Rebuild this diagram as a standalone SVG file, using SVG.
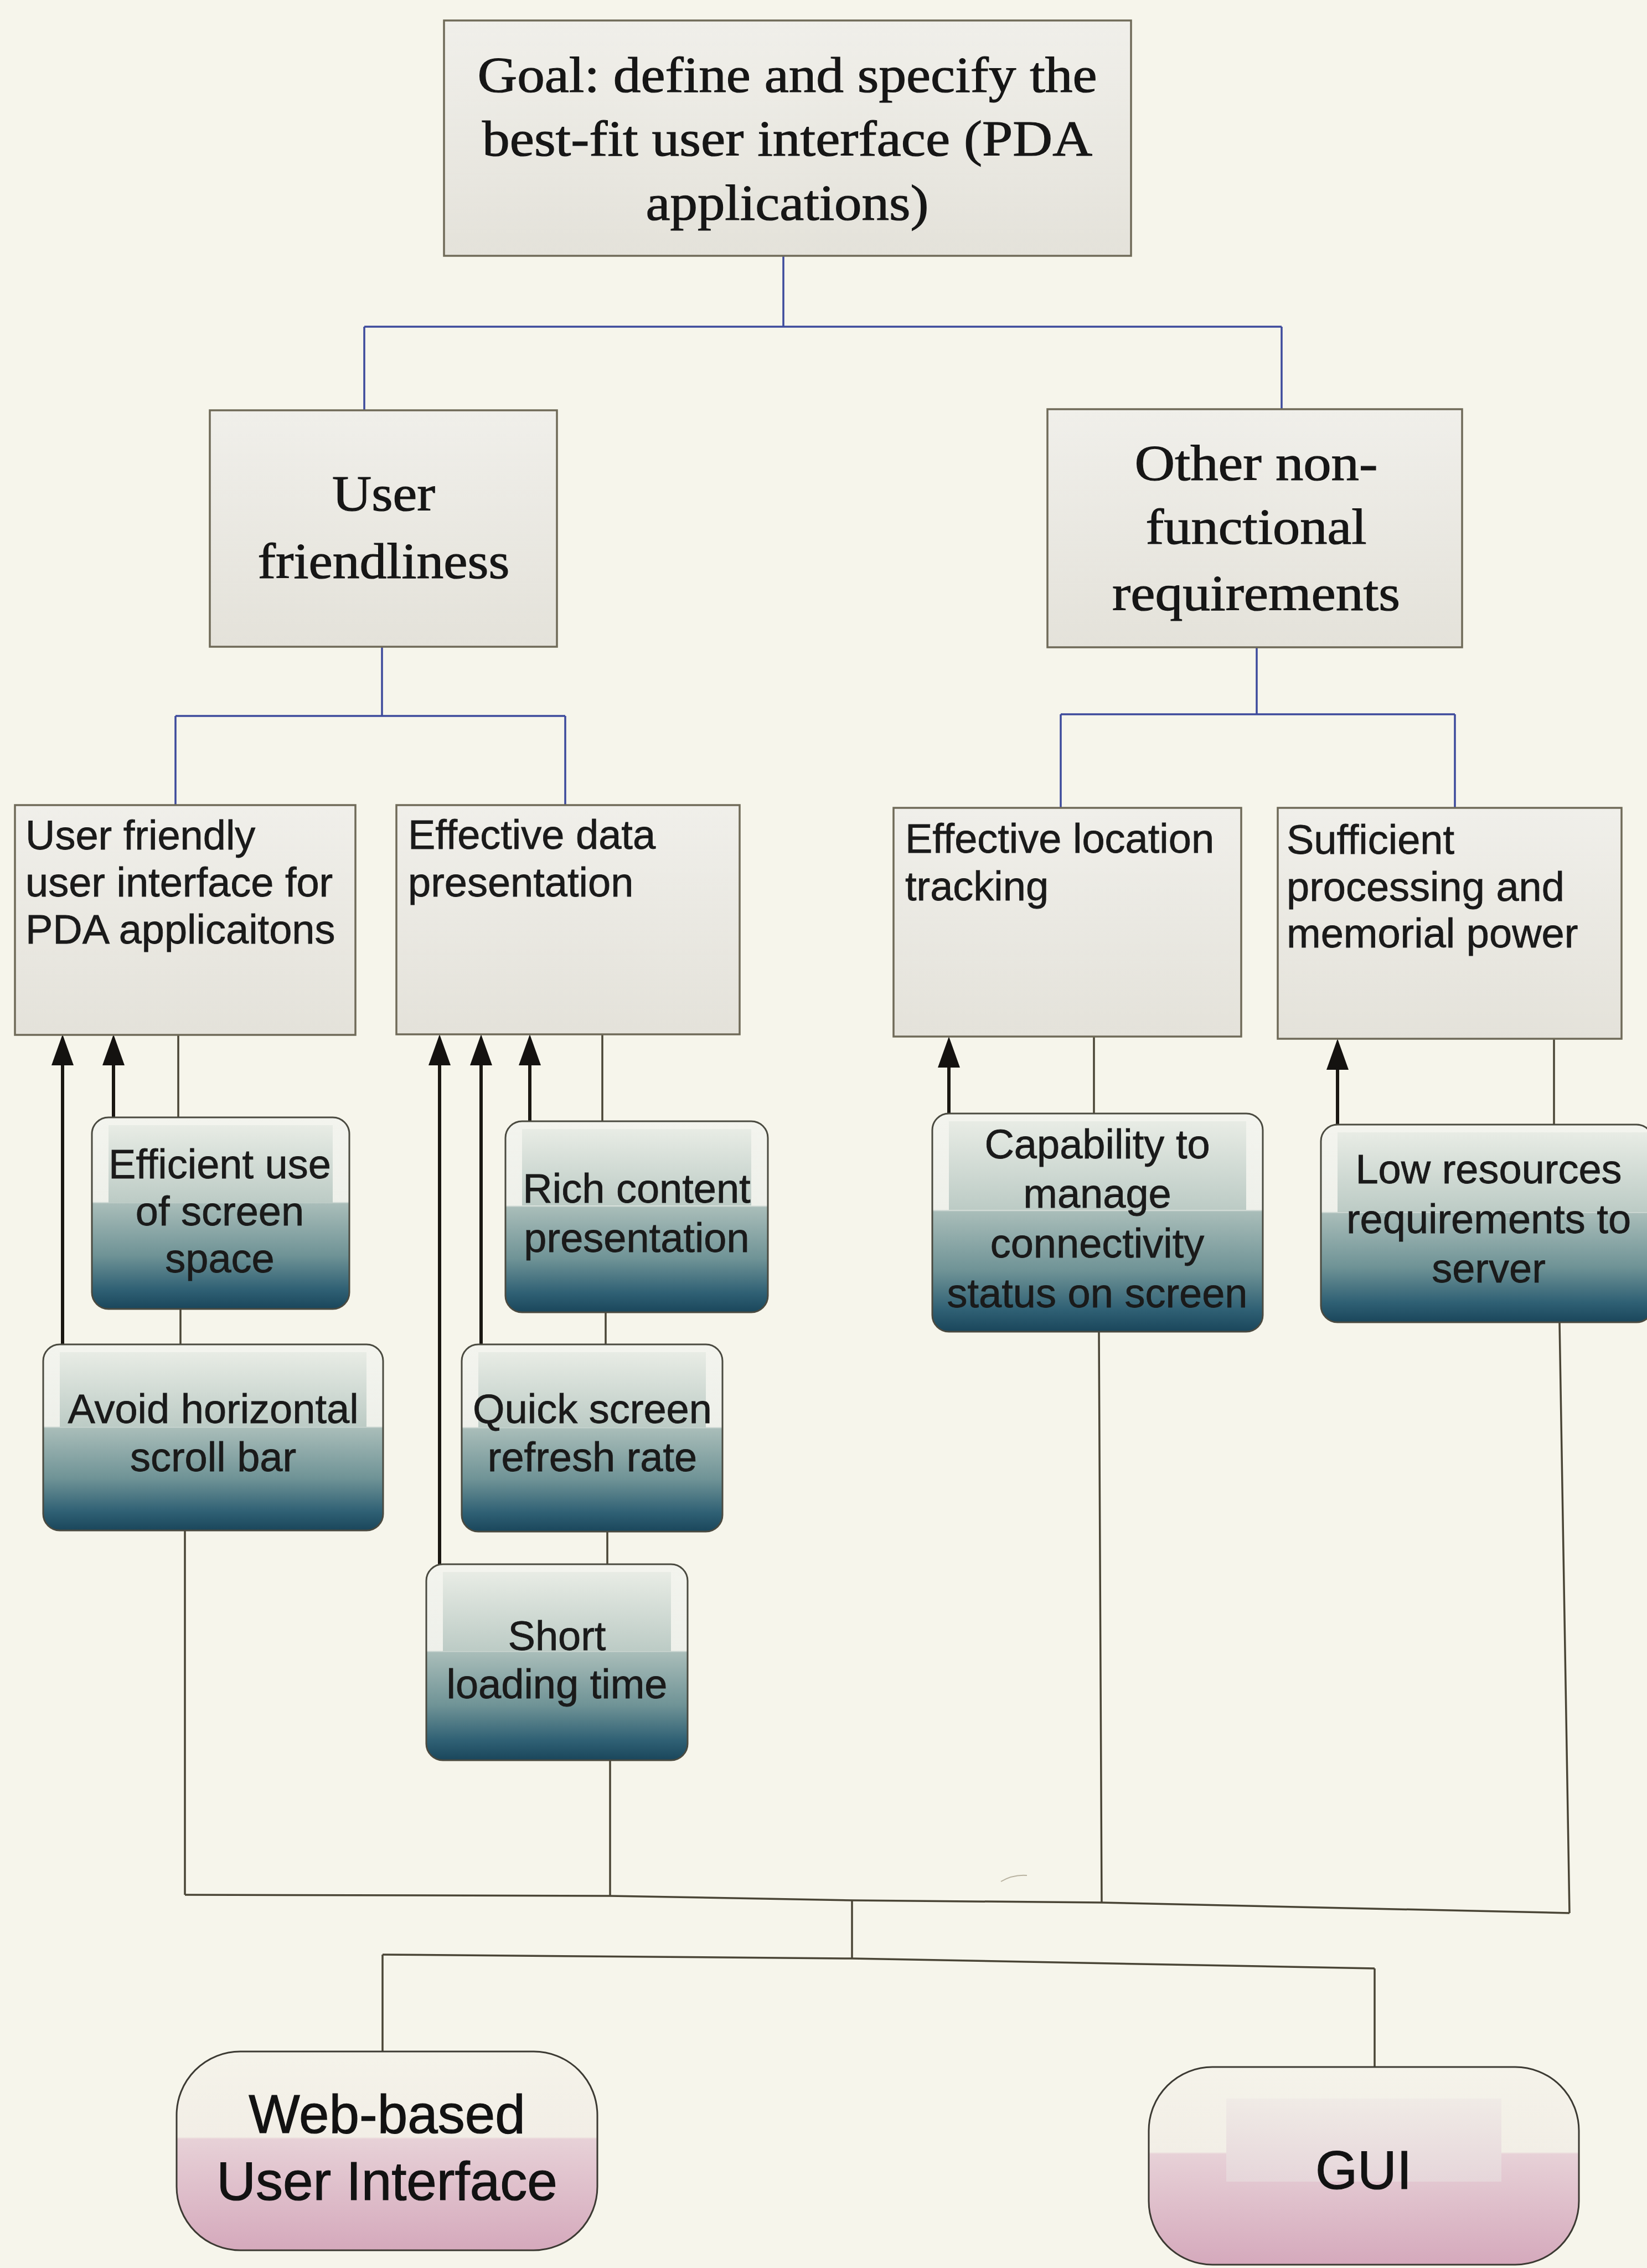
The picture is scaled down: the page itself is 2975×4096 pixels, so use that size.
<svg xmlns="http://www.w3.org/2000/svg" width="2975" height="4096" viewBox="0 0 2975 4096">
  <defs>
    <style>
      .bg { fill: #f6f5eb; }
      .box { fill: url(#grayFill); stroke: #6f6a58; stroke-width: 3.5; }
      .teal { fill: url(#tealFill); stroke: #4a4a40; stroke-width: 3; }
      .tealTop { fill: url(#tealTopFill); }
      .pink { fill: url(#pinkFill); stroke: #3c3a33; stroke-width: 3; }
      .pinkTop { fill: url(#pinkTopFill); }
      .serif { font-family: "Liberation Serif", "Times New Roman", serif; font-size: 92px; fill: #161616; stroke: #161616; stroke-width: 1.2; text-anchor: middle; }
      .sans { font-family: "Liberation Sans", Arial, sans-serif; font-size: 74px; fill: #1a1a1a; stroke: #1a1a1a; stroke-width: 0.8; }
      .mid { text-anchor: middle; }
      .big { font-family: "Liberation Sans", Arial, sans-serif; font-size: 98px; fill: #121212; stroke: #121212; stroke-width: 1.2; text-anchor: middle; }
      .blue { fill: none; stroke: #3d4a9c; stroke-width: 3.5; }
      .link { fill: none; stroke: #4a4536; stroke-width: 3.5; }
      .arrow { fill: none; stroke: #1a1712; stroke-width: 6; marker-end: url(#head); }
    </style>
    <linearGradient id="grayFill" x1="0" y1="0" x2="0" y2="1">
      <stop offset="0" stop-color="#f0efea"/>
      <stop offset="1" stop-color="#e4e2da"/>
    </linearGradient>
    <linearGradient id="tealFill" x1="0" y1="0" x2="0" y2="1">
      <stop offset="0" stop-color="#f3f4ee"/>
      <stop offset="0.44" stop-color="#eef0ea"/>
      <stop offset="0.45" stop-color="#a9bdb9"/>
      <stop offset="0.72" stop-color="#6f9396"/>
      <stop offset="0.9" stop-color="#2f6074"/>
      <stop offset="1" stop-color="#1a465b"/>
    </linearGradient>
    <linearGradient id="tealTopFill" x1="0" y1="0" x2="0" y2="1">
      <stop offset="0" stop-color="#e8ece5"/>
      <stop offset="1" stop-color="#bccbc5"/>
    </linearGradient>
    <linearGradient id="pinkFill" x1="0" y1="0" x2="0" y2="1">
      <stop offset="0" stop-color="#f5f3ea"/>
      <stop offset="0.43" stop-color="#f2eee6"/>
      <stop offset="0.44" stop-color="#e7d1d7"/>
      <stop offset="1" stop-color="#d5a9bc"/>
    </linearGradient>
    <linearGradient id="pinkTopFill" x1="0" y1="0" x2="0" y2="1">
      <stop offset="0" stop-color="#f0ebe6"/>
      <stop offset="1" stop-color="#e6d6da"/>
    </linearGradient>
    <marker id="head" markerUnits="userSpaceOnUse" markerWidth="56" markerHeight="40" viewBox="0 0 56 40" refX="48" refY="20" orient="auto">
      <path d="M0,0 L56,20 L0,40 z" fill="#141210"/>
    </marker>
  </defs>

  <rect class="bg" x="0" y="0" width="2975" height="4096"/>

  <!-- connectors -->
  <g id="connectors">
    <!-- goal to second level -->
    <path class="blue" d="M1415,462 V590 M658,590 H2315 M658,590 V741 M2315,590 V739"/>
    <!-- user friendliness to its sub-goals -->
    <path class="blue" d="M690,1168 V1293 M317,1293 H1021 M317,1293 V1454 M1021,1293 V1454"/>
    <!-- other requirements to its sub-goals -->
    <path class="blue" d="M2270,1169 V1290 M1916,1290 H2628 M1916,1290 V1459 M2628,1290 V1459"/>

    <!-- chains through the criteria boxes -->
    <path class="link" d="M322,1868 V2018 M326,2364 V2428 M334,2764 V3422"/>
    <path class="link" d="M1088,1868 V2025 M1094,2370 V2428 M1097,2766 V2825 M1102,3179 V3424"/>
    <path class="link" d="M1976,1872 V2011 M1985,2405 L1990,3436"/>
    <path class="link" d="M2807,1876 V2031 M2817,2388 L2835,3455"/>

    <!-- collecting bus and split to the alternatives -->
    <polyline class="link" points="334,3422 1102,3424 1539,3432 1990,3436 2835,3455"/>
    <path class="link" d="M1539,3432 V3537"/>
    <polyline class="link" points="691,3530 1539,3537 2483,3555"/>
    <path class="link" d="M691,3530 V3705 M2483,3555 V3733"/>

    <!-- contribution arrows -->
    <path class="arrow" d="M113,2428 V1876"/>
    <path class="arrow" d="M205,2018 V1876"/>
    <path class="arrow" d="M794,2825 V1876"/>
    <path class="arrow" d="M869,2428 V1876"/>
    <path class="arrow" d="M957,2025 V1876"/>
    <path class="arrow" d="M1714,2011 V1880"/>
    <path class="arrow" d="M2416,2031 V1884"/>

    <!-- small stray stroke -->
    <path d="M1808,3398 Q1830,3385 1855,3387" fill="none" stroke="#b8b2a0" stroke-width="2"/>
  </g>

  <!-- top goal -->
  <g id="goal">
    <rect class="box" x="802" y="37" width="1241" height="425"/>
    <text class="serif" x="1422" y="166" textLength="1119" lengthAdjust="spacingAndGlyphs">Goal: define and specify the</text>
    <text class="serif" x="1422" y="281" textLength="1102" lengthAdjust="spacingAndGlyphs">best-fit user interface (PDA</text>
    <text class="serif" x="1422" y="397" textLength="511" lengthAdjust="spacingAndGlyphs">applications)</text>
  </g>

  <g id="user-friendliness">
    <rect class="box" x="379" y="741" width="627" height="427"/>
    <text class="serif" x="693" y="922" textLength="186" lengthAdjust="spacingAndGlyphs">User</text>
    <text class="serif" x="693" y="1044" textLength="455" lengthAdjust="spacingAndGlyphs">friendliness</text>
  </g>

  <g id="other-nfr">
    <rect class="box" x="1892" y="739" width="749" height="430"/>
    <text class="serif" x="2269" y="867" textLength="439" lengthAdjust="spacingAndGlyphs">Other non-</text>
    <text class="serif" x="2269" y="982" textLength="399" lengthAdjust="spacingAndGlyphs">functional</text>
    <text class="serif" x="2269" y="1102" textLength="520" lengthAdjust="spacingAndGlyphs">requirements</text>
  </g>

  <!-- third level -->
  <g id="ui-for-pda">
    <rect class="box" x="27" y="1454" width="615" height="415"/>
    <text class="sans" x="46" y="1534">User friendly</text>
    <text class="sans" x="46" y="1619">user interface for</text>
    <text class="sans" x="46" y="1704">PDA applicaitons</text>
  </g>

  <g id="data-presentation">
    <rect class="box" x="716" y="1454" width="620" height="414"/>
    <text class="sans" x="737" y="1533">Effective data</text>
    <text class="sans" x="737" y="1619">presentation</text>
  </g>

  <g id="location-tracking">
    <rect class="box" x="1614" y="1459" width="628" height="413"/>
    <text class="sans" x="1635" y="1540">Effective location</text>
    <text class="sans" x="1635" y="1626">tracking</text>
  </g>

  <g id="processing-power">
    <rect class="box" x="2308" y="1459" width="621" height="417"/>
    <text class="sans" x="2324" y="1542">Sufficient</text>
    <text class="sans" x="2324" y="1627">processing and</text>
    <text class="sans" x="2324" y="1711">memorial power</text>
  </g>

  <!-- criteria -->
  <g id="screen-space">
    <rect class="teal" x="166" y="2018" width="465" height="346" rx="30"/>
    <rect class="tealTop" x="196" y="2032" width="405" height="140"/>
    <text class="sans mid" x="397" y="2128">Efficient use</text>
    <text class="sans mid" x="397" y="2213">of screen</text>
    <text class="sans mid" x="397" y="2298">space</text>
  </g>

  <g id="no-hscroll">
    <rect class="teal" x="78" y="2428" width="614" height="336" rx="30"/>
    <rect class="tealTop" x="108" y="2442" width="554" height="135"/>
    <text class="sans mid" x="385" y="2570">Avoid horizontal</text>
    <text class="sans mid" x="385" y="2657">scroll bar</text>
  </g>

  <g id="rich-content">
    <rect class="teal" x="913" y="2025" width="474" height="345" rx="30"/>
    <rect class="tealTop" x="943" y="2039" width="414" height="138"/>
    <text class="sans mid" x="1150" y="2172">Rich content</text>
    <text class="sans mid" x="1150" y="2261">presentation</text>
  </g>

  <g id="refresh-rate">
    <rect class="teal" x="834" y="2428" width="471" height="338" rx="30"/>
    <rect class="tealTop" x="864" y="2442" width="411" height="136"/>
    <text class="sans mid" x="1070" y="2570">Quick screen</text>
    <text class="sans mid" x="1070" y="2657">refresh rate</text>
  </g>

  <g id="loading-time">
    <rect class="teal" x="770" y="2825" width="472" height="354" rx="30"/>
    <rect class="tealTop" x="800" y="2839" width="412" height="143"/>
    <text class="sans mid" x="1006" y="2980">Short</text>
    <text class="sans mid" x="1006" y="3067">loading time</text>
  </g>

  <g id="connectivity">
    <rect class="teal" x="1684" y="2011" width="597" height="394" rx="30"/>
    <rect class="tealTop" x="1714" y="2025" width="537" height="160"/>
    <text class="sans mid" x="1982" y="2092">Capability to</text>
    <text class="sans mid" x="1982" y="2181">manage</text>
    <text class="sans mid" x="1982" y="2271">connectivity</text>
    <text class="sans mid" x="1982" y="2361">status on screen</text>
  </g>

  <g id="low-resources">
    <rect class="teal" x="2386" y="2031" width="600" height="357" rx="30"/>
    <rect class="tealTop" x="2416" y="2045" width="560" height="144"/>
    <text class="sans mid" x="2689" y="2137">Low resources</text>
    <text class="sans mid" x="2689" y="2227">requirements to</text>
    <text class="sans mid" x="2689" y="2316">server</text>
  </g>

  <!-- alternatives -->
  <g id="web-ui">
    <rect class="pink" x="319" y="3705" width="760" height="359" rx="115"/>
    <text class="big" x="699" y="3852">Web-based</text>
    <text class="big" x="699" y="3973">User Interface</text>
  </g>

  <g id="gui">
    <rect class="pink" x="2075" y="3733" width="777" height="357" rx="115"/>
    <rect class="pinkTop" x="2215" y="3790" width="497" height="150"/>
    <text class="big" x="2463" y="3953">GUI</text>
  </g>
</svg>
